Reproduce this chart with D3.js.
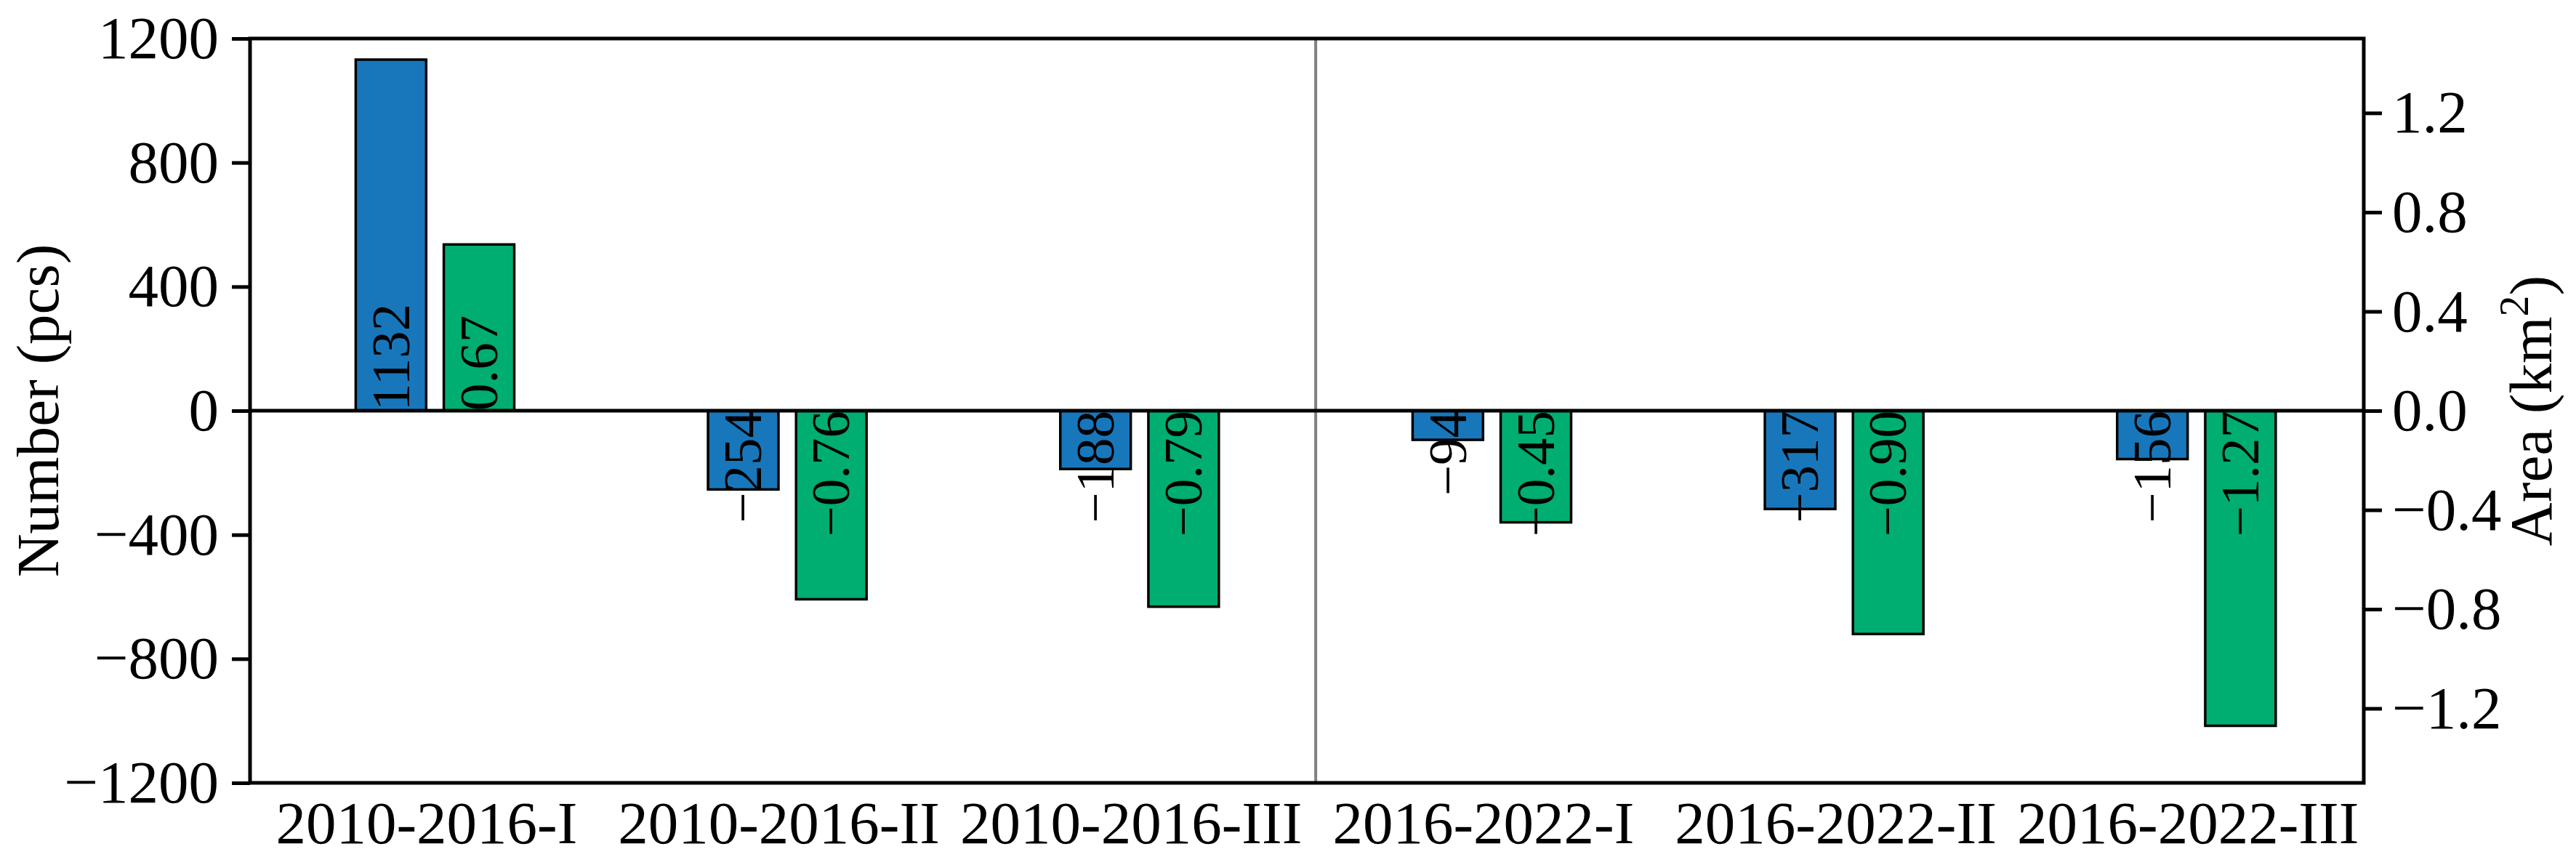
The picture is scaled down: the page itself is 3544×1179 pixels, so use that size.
<!DOCTYPE html>
<html>
<head>
<meta charset="utf-8">
<script src="https://cdn.jsdelivr.net/npm/d3@7"></script>
<style>
  html, body { margin: 0; padding: 0; background: #ffffff; }
  svg { display: block; }
  text { font-family: "Liberation Serif", "Times New Roman", serif; fill: #000; }
</style>
</head>
<body>
<script>
// ---------------- data ----------------
const categories = ["2010-2016-I", "2010-2016-II", "2010-2016-III", "2016-2022-I", "2016-2022-II", "2016-2022-III"];
const numberValues = [1132, -254, -188, -94, -317, -156];
const areaValues = [0.67, -0.76, -0.79, -0.45, -0.90, -1.27];
const numberLabels = ["1132", "\u2212254", "\u2212188", "\u221294", "\u2212317", "\u2212156"];
const areaLabels = ["0.67", "\u22120.76", "\u22120.79", "\u22120.45", "\u22120.90", "\u22121.27"];
const leftTicks = [1200, 800, 400, 0, -400, -800, -1200];
const leftTickLabels = ["1200", "800", "400", "0", "\u2212400", "\u2212800", "\u22121200"];
const rightTicks = [1.2, 0.8, 0.4, 0.0, -0.4, -0.8, -1.2];
const rightTickLabels = ["1.2", "0.8", "0.4", "0.0", "\u22120.4", "\u22120.8", "\u22121.2"];
const leftDomain = [-1200, 1200];
const rightDomain = [-1.5, 1.5];
const dividerPosition = 2.525;

// ---------------- layout ----------------
const W = 3544, H = 1179;
const L = 344, R = 3252, T = 53, B = 1077;
const blue = "#1877bb", green = "#00ae72";
const tickFont = 83, labelFont = 75;

const svg = d3.select("body").append("svg").attr("width", W).attr("height", H);

const x = d3.scaleLinear().domain([-0.5, categories.length - 0.5]).range([L, R]);
const yL = d3.scaleLinear().domain(leftDomain).range([B, T]);
const yR = d3.scaleLinear().domain(rightDomain).range([B, T]);

// divider line
svg.append("line")
  .attr("x1", x(dividerPosition)).attr("x2", x(dividerPosition))
  .attr("y1", T).attr("y2", B)
  .attr("stroke", "#808080").attr("stroke-width", 4);

// blue bars (number)
svg.append("g").selectAll("rect").data(numberValues).join("rect")
  .attr("x", (d, i) => x(i - 0.2))
  .attr("width", (d, i) => x(i) - x(i - 0.2))
  .attr("y", d => Math.min(yL(d), yL(0)))
  .attr("height", d => Math.abs(yL(d) - yL(0)))
  .attr("fill", blue).attr("stroke", "#000").attr("stroke-width", 3.5);

// green bars (area)
svg.append("g").selectAll("rect").data(areaValues).join("rect")
  .attr("x", (d, i) => x(i + 0.05))
  .attr("width", (d, i) => x(i + 0.25) - x(i + 0.05))
  .attr("y", d => Math.min(yR(d), yR(0)))
  .attr("height", d => Math.abs(yR(d) - yR(0)))
  .attr("fill", green).attr("stroke", "#000").attr("stroke-width", 3.5);

// zero line
svg.append("line")
  .attr("x1", L).attr("x2", R).attr("y1", yL(0)).attr("y2", yL(0))
  .attr("stroke", "#000").attr("stroke-width", 5);

// value labels (rotated)
function addLabels(values, labels, offA, offB, yScale) {
  svg.append("g").selectAll("text").data(values).join("text")
    .attr("transform", (d, i) => `translate(${(x(i + offA) + x(i + offB)) / 2},${yScale(0)}) rotate(-90)`)
    .attr("x", 0).attr("y", 0).attr("dy", "0.33em")
    .attr("text-anchor", d => d >= 0 ? "start" : "end")
    .attr("font-size", labelFont)
    .text((d, i) => labels[i]);
}
addLabels(numberValues, numberLabels, -0.2, 0, yL);
addLabels(areaValues, areaLabels, 0.05, 0.25, yR);

// axes
const leftAxis = d3.axisLeft(yL).tickValues(leftTicks)
  .tickFormat((d, i) => leftTickLabels[i]).tickSize(25).tickPadding(18);
const gL = svg.append("g").attr("transform", `translate(${L},0)`).call(leftAxis);

const rightAxis = d3.axisRight(yR).tickValues(rightTicks)
  .tickFormat((d, i) => rightTickLabels[i]).tickSize(25).tickPadding(14);
const gR = svg.append("g").attr("transform", `translate(${R},0)`).call(rightAxis);

const bottomAxis = d3.axisBottom(x).tickValues(d3.range(categories.length))
  .tickFormat((d, i) => categories[i]).tickSize(0).tickPadding(24);
const gB = svg.append("g").attr("transform", `translate(0,${B})`).call(bottomAxis);

[gL, gR, gB].forEach(g => {
  g.select(".domain").remove();
  g.selectAll(".tick line").attr("stroke", "#000").attr("stroke-width", 5);
  g.selectAll(".tick text").attr("font-size", tickFont)
    .attr("font-family", "'Liberation Serif', 'Times New Roman', serif").attr("fill", "#000");
});

// frame
svg.append("rect").attr("x", L).attr("y", T).attr("width", R - L).attr("height", B - T)
  .attr("fill", "none").attr("stroke", "#000").attr("stroke-width", 5);

// axis titles
svg.append("text")
  .attr("transform", `translate(80,${(T + B) / 2}) rotate(-90)`)
  .attr("text-anchor", "middle").attr("font-size", tickFont)
  .text("Number (pcs)");

const rt = svg.append("text")
  .attr("transform", `translate(3510,${(T + B) / 2}) rotate(-90)`)
  .attr("text-anchor", "middle").attr("font-size", tickFont);
rt.append("tspan").text("Area (km");
rt.append("tspan").attr("font-size", 58).attr("dy", -32).text("2");
rt.append("tspan").attr("dy", 32).text(")");
</script>
</body>
</html>
